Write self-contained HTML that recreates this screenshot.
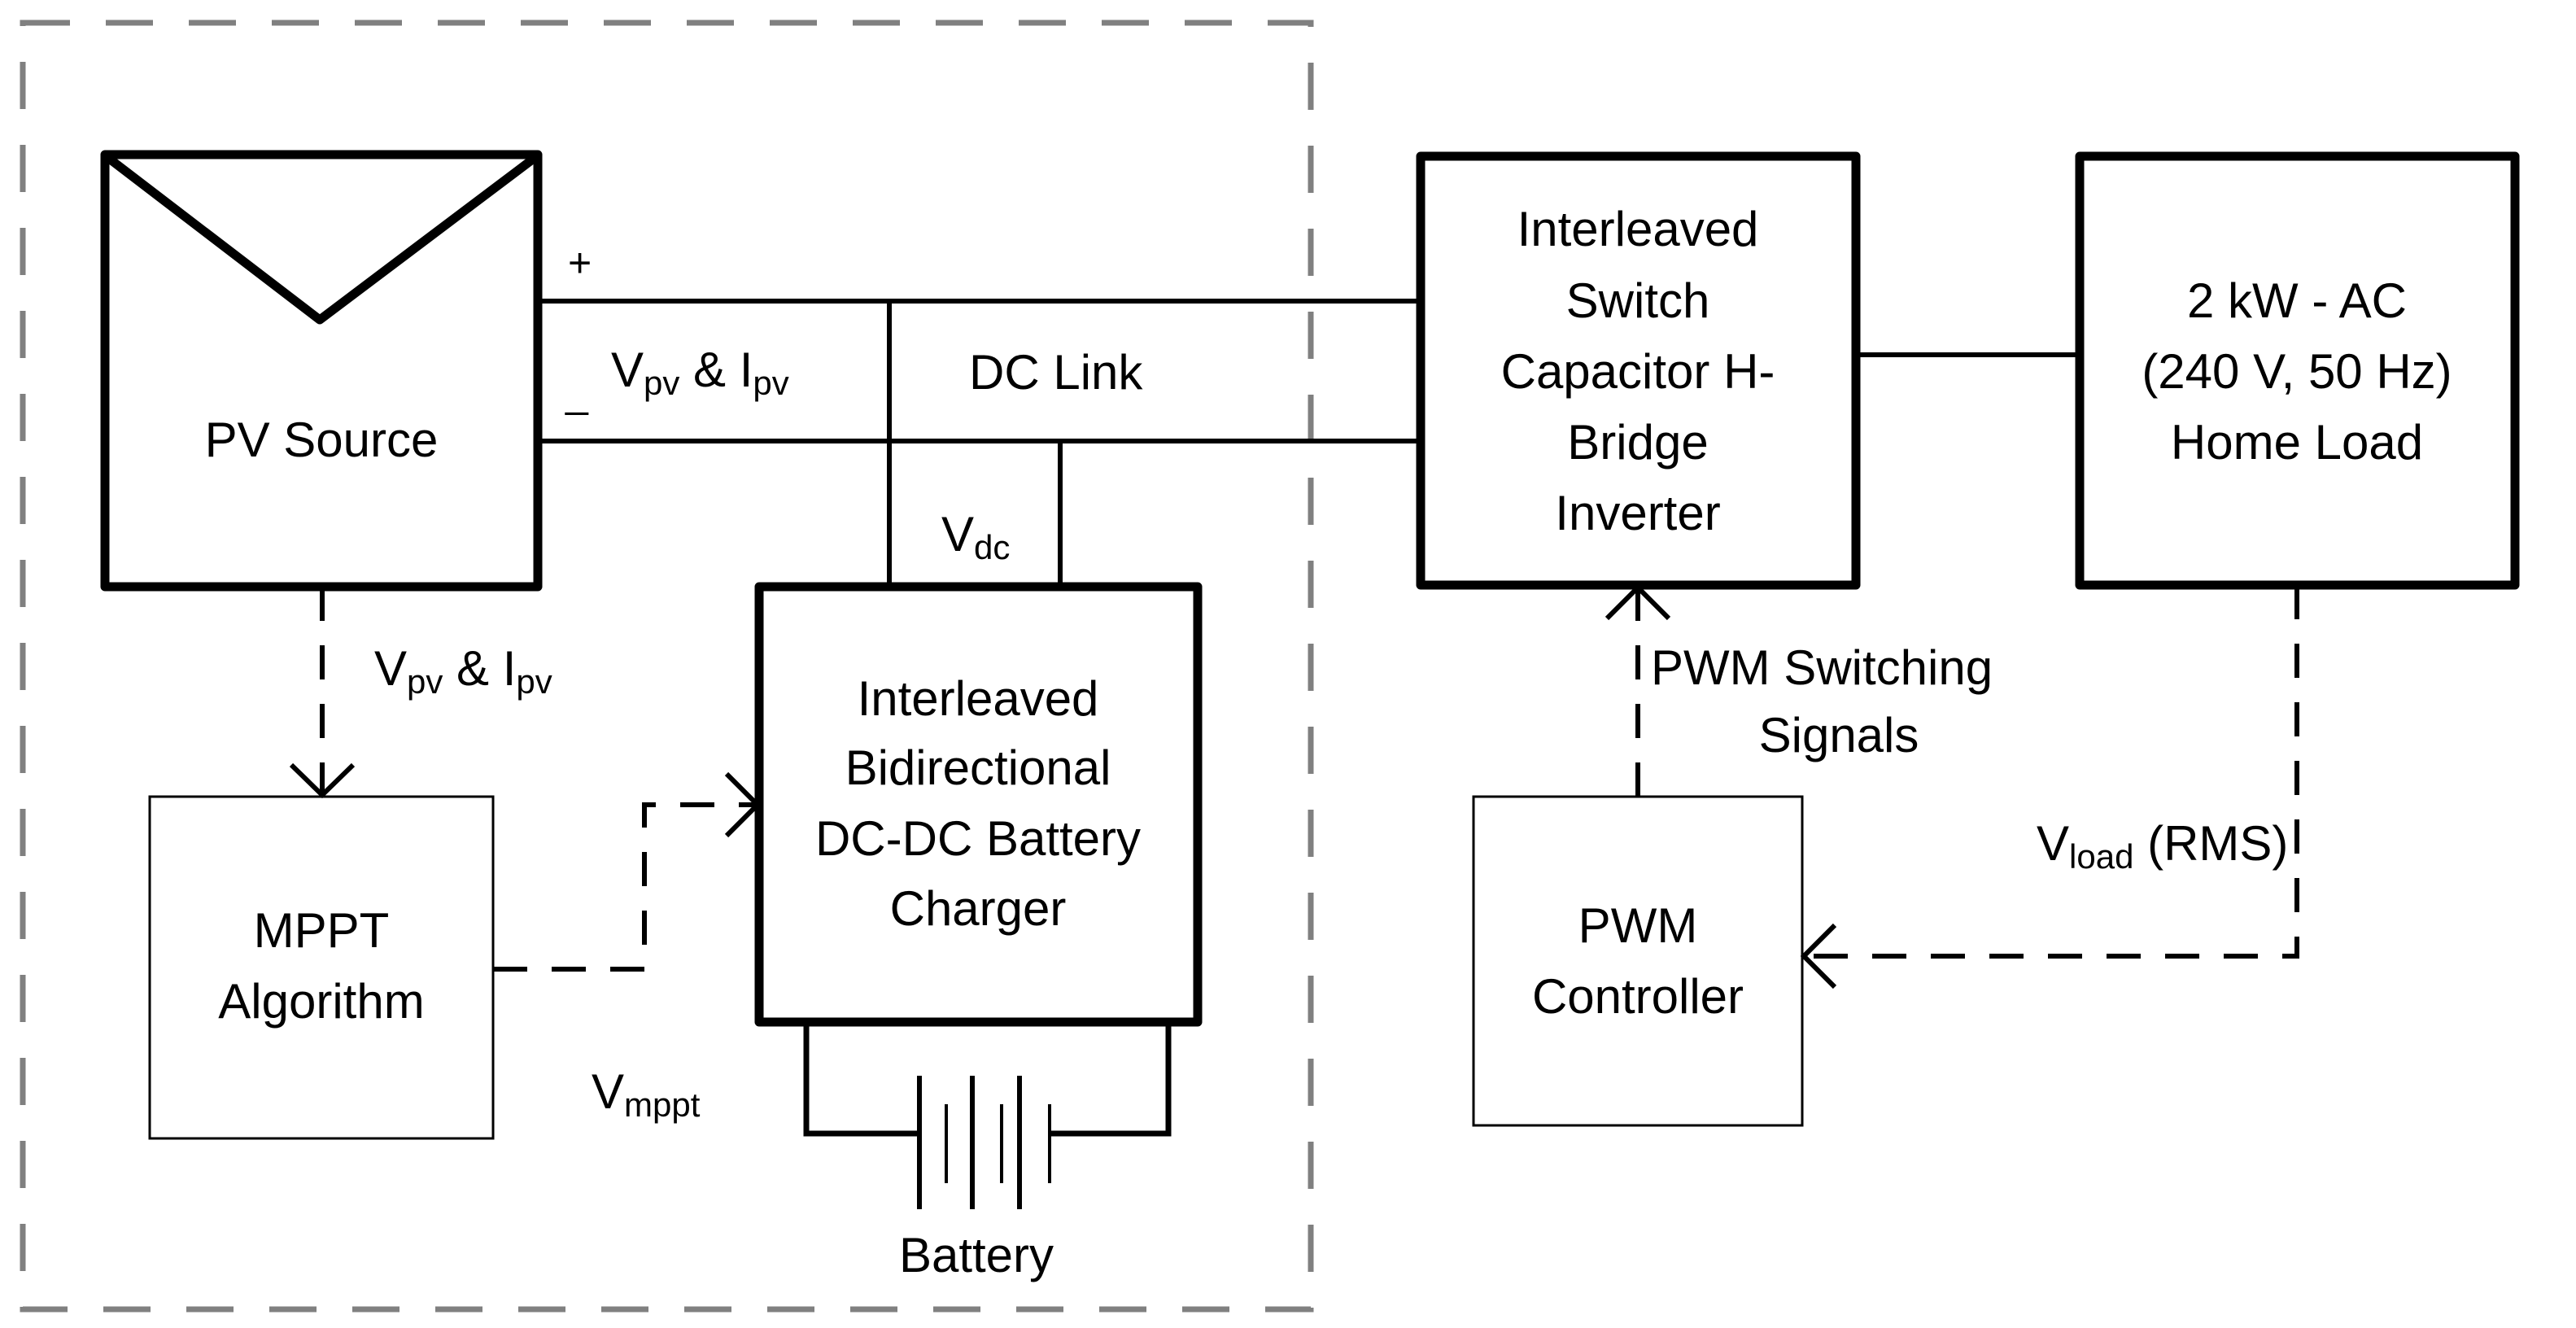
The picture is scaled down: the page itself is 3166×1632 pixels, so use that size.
<!DOCTYPE html>
<html><head><meta charset="utf-8"><style>
html,body{margin:0;padding:0;background:#fff}
svg{display:block}
text{font-family:"Liberation Sans",sans-serif;font-size:60px;fill:#000}
</style></head><body>
<svg width="3166" height="1632" viewBox="0 0 3166 1632" xmlns="http://www.w3.org/2000/svg">
<rect x="28" y="28" width="1583" height="1581" fill="none" stroke="#808080" stroke-width="7" stroke-dasharray="58,44"/>
<rect x="129" y="190" width="532" height="531" fill="none" stroke="#000" stroke-width="11" stroke-linejoin="round"/>
<polyline points="133,194 393,393 657,194" fill="none" stroke="#000" stroke-width="11" stroke-linejoin="round"/>
<text x="395" y="561" text-anchor="middle">PV Source</text>
<g stroke="#000" stroke-width="6" fill="none">
<line x1="661" y1="370" x2="1746" y2="370"/>
<line x1="661" y1="542" x2="1746" y2="542"/>
<line x1="1093" y1="370" x2="1093" y2="721"/>
<line x1="1303" y1="542" x2="1303" y2="721"/>
<line x1="2281" y1="436" x2="2556" y2="436"/>
</g>
<text x="698" y="340" style="font-size:50px">+</text>
<text x="695" y="500" style="font-size:50px">_</text>
<text x="751" y="475">V<tspan style="font-size:42px" dy="10">pv</tspan><tspan dy="-10"> &amp; I</tspan><tspan style="font-size:42px" dy="10">pv</tspan></text>
<text x="1191" y="478">DC Link</text>
<text x="1157" y="677">V<tspan style="font-size:42px" dy="10">dc</tspan></text>
<rect x="933" y="721" width="539" height="535" fill="none" stroke="#000" stroke-width="11" stroke-linejoin="round"/>
<g text-anchor="middle">
<text x="1202" y="879">Interleaved</text>
<text x="1202" y="964">Bidirectional</text>
<text x="1202" y="1051">DC-DC Battery</text>
<text x="1202" y="1137">Charger</text>
</g>
<g stroke="#000" fill="none">
<polyline points="991,1256 991,1393 1130,1393" stroke-width="7"/>
<polyline points="1436,1256 1436,1393 1290,1393" stroke-width="7"/>
<line x1="1130" y1="1322" x2="1130" y2="1486" stroke-width="6"/>
<line x1="1195" y1="1322" x2="1195" y2="1486" stroke-width="6"/>
<line x1="1253" y1="1322" x2="1253" y2="1486" stroke-width="6"/>
<line x1="1163" y1="1357" x2="1163" y2="1454" stroke-width="4"/>
<line x1="1231" y1="1357" x2="1231" y2="1454" stroke-width="4"/>
<line x1="1290" y1="1357" x2="1290" y2="1454" stroke-width="4"/>
</g>
<text x="1200" y="1563" text-anchor="middle">Battery</text>
<rect x="184" y="979" width="422" height="420" fill="none" stroke="#000" stroke-width="3"/>
<text x="395" y="1164" text-anchor="middle">MPPT</text>
<text x="395" y="1251" text-anchor="middle">Algorithm</text>
<g stroke="#000" stroke-width="6" fill="none">
<line x1="396" y1="721" x2="396" y2="975" stroke-dasharray="42,30"/>
<polyline points="358,940 396,977 434,940"/>
<polyline points="606,1191 792,1191 792,989 928,989" stroke-dasharray="42,30"/>
<polyline points="893,951 931,989 893,1027"/>
<line x1="2013" y1="979" x2="2013" y2="724" stroke-dasharray="42,30"/>
<polyline points="1975,760 2013,722 2051,760"/>
<polyline points="2823,719 2823,1175 2220,1175" stroke-dasharray="42,30"/>
<polyline points="2255,1137 2217,1175 2255,1213"/>
</g>
<text x="460" y="842">V<tspan style="font-size:42px" dy="10">pv</tspan><tspan dy="-10"> &amp; I</tspan><tspan style="font-size:42px" dy="10">pv</tspan></text>
<text x="727" y="1362">V<tspan style="font-size:42px" dy="10">mppt</tspan></text>
<rect x="1746" y="192" width="535" height="527" fill="none" stroke="#000" stroke-width="11" stroke-linejoin="round"/>
<g text-anchor="middle">
<text x="2013" y="302">Interleaved</text>
<text x="2013" y="390">Switch</text>
<text x="2013" y="477">Capacitor H-</text>
<text x="2013" y="564">Bridge</text>
<text x="2013" y="651">Inverter</text>
</g>
<rect x="2556" y="192" width="535" height="527" fill="none" stroke="#000" stroke-width="11" stroke-linejoin="round"/>
<g text-anchor="middle">
<text x="2823" y="390">2 kW - AC</text>
<text x="2823" y="477">(240 V, 50 Hz)</text>
<text x="2823" y="564">Home Load</text>
</g>
<rect x="1811" y="979" width="404" height="404" fill="none" stroke="#000" stroke-width="3"/>
<text x="2013" y="1158" text-anchor="middle">PWM</text>
<text x="2013" y="1245" text-anchor="middle">Controller</text>
<text x="2029" y="841">PWM Switching</text>
<text x="2260" y="924" text-anchor="middle">Signals</text>
<text x="2503" y="1057">V<tspan style="font-size:42px" dy="10">load</tspan><tspan dy="-10"> (RMS)</tspan></text>
</svg>
</body></html>
